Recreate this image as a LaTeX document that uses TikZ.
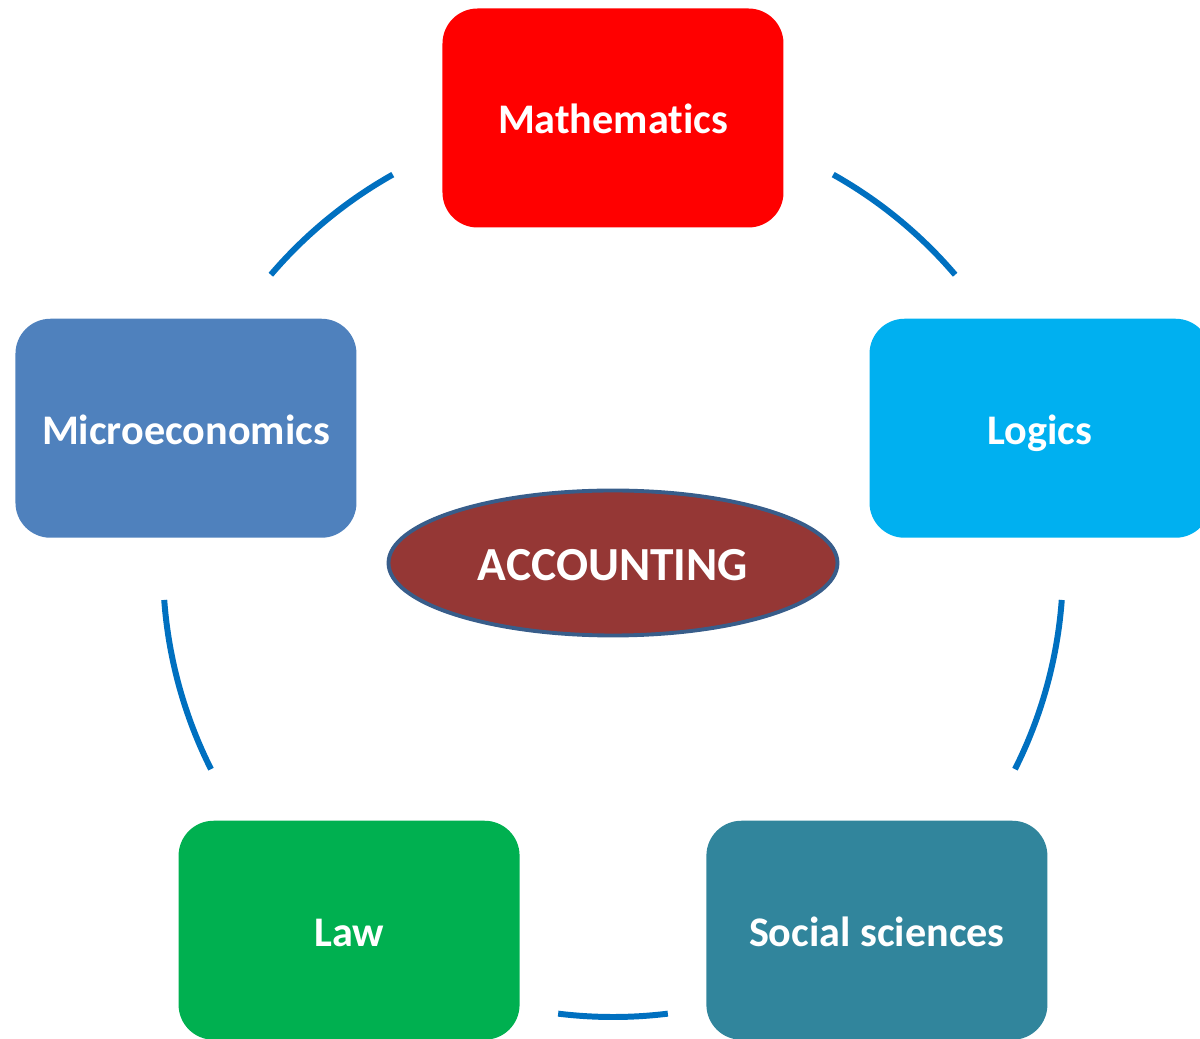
\documentclass[tikz,border=0pt]{standalone}
\usepackage{fontspec}
\setmainfont{Carlito}[Ligatures={NoCommon}]
\usetikzlibrary{shapes.geometric}
\definecolor{mathred}{HTML}{FF0000}
\definecolor{logicblue}{HTML}{00B0F0}
\definecolor{microblue}{HTML}{4F81BD}
\definecolor{lawgreen}{HTML}{00B050}
\definecolor{socialteal}{HTML}{31859C}
\definecolor{accred}{HTML}{953735}
\definecolor{accborder}{HTML}{385D8A}
\definecolor{arcblue}{HTML}{0070C0}
\begin{document}
\begin{tikzpicture}[
    topic/.style={rectangle, rounded corners=0.35cm, minimum width=3.41cm, minimum height=2.19cm,
        text height=11.5pt, text depth=2.4pt, text=white, font=\fontsize{12pt}{14pt}\selectfont\bfseries},
    core/.style={ellipse, draw=accborder, line width=1.1pt, fill=accred, inner sep=0pt,
        minimum width=4.49cm, minimum height=1.45cm, text height=12.2pt, text depth=2.5pt,
        text=white, font=\fontsize{13.5pt}{16pt}\selectfont\bfseries},
    ring/.style={draw=arcblue, line width=1.7pt}]
    \useasboundingbox (-6.13,-4.72) rectangle (5.87,5.67);
    \clip (-6.13,-4.72) rectangle (5.87,5.67);
    \coordinate (c) at (0,0);
    \node[topic, fill=mathred] (math) at (90:4.49) {Mathematics};
    \node[topic, fill=logicblue] (logic) at (18:4.49) {Logics};
    \node[topic, fill=socialteal] (social) at (-54:4.49) {Social sciences};
    \node[topic, fill=lawgreen] (law) at (-126:4.49) {Law};
    \node[topic, fill=microblue] (micro) at (162:4.49) {Microeconomics};
    \node[core] (acc) at (0,0.04) {ACCOUNTING};
    \draw[ring] (60.7:4.5) arc[start angle=60.7, end angle=40.5, radius=4.5];
    \draw[ring] (-4.2:4.5) arc[start angle=-4.2, end angle=-26.7, radius=4.5];
    \draw[ring] (277:4.5) arc[start angle=277, end angle=263, radius=4.5];
    \draw[ring] (206.7:4.5) arc[start angle=206.7, end angle=184.2, radius=4.5];
    \draw[ring] (139.5:4.5) arc[start angle=139.5, end angle=119.3, radius=4.5];
\end{tikzpicture}
\end{document}
